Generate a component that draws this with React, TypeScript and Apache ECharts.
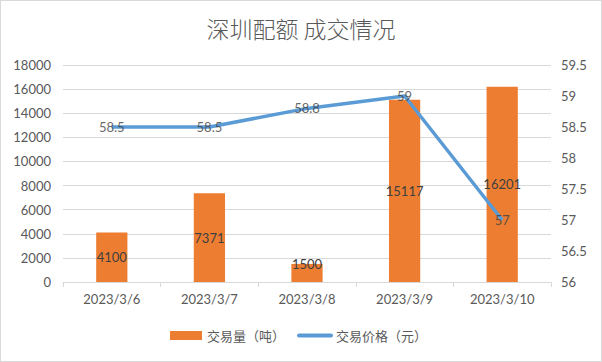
import React, { useEffect, useRef } from "react";
import * as echarts from "echarts";

const categories = ["2023/3/6", "2023/3/7", "2023/3/8", "2023/3/9", "2023/3/10"];
const volumes = [4100, 7371, 1500, 15117, 16201];
const prices = [58.5, 58.5, 58.8, 59, 57];
const titleText = "深圳配额 成交情况";
const volumeName = "交易量（吨）";
const priceName = "交易价格（元）";

export default function App() {
  const ref = useRef<HTMLDivElement>(null);
  useEffect(() => {
    if (!ref.current) return;
    const chart = echarts.init(ref.current, undefined, { renderer: "svg" });
    const numFont = "Lato, 'Noto Sans', sans-serif";
    const cjkFont = "'Noto Sans CJK SC', sans-serif";
    chart.setOption({
      animation: false,
      backgroundColor: "#ffffff",
      title: {
        text: titleText,
        left: "center",
        top: 10,
        textStyle: { fontFamily: cjkFont, fontSize: 23, fontWeight: 300, color: "#595959" },
      },
      legend: {
        bottom: 14,
        left: 164,
        itemWidth: 32,
        itemHeight: 9,
        itemGap: 12,
        textStyle: { fontFamily: cjkFont, fontSize: 13, color: "#595959" },
        data: [
          { name: volumeName, icon: "rect" },
          {
            name: priceName,
            itemStyle: { opacity: 0 },
            lineStyle: { width: 4, cap: "round", color: "#5B9BD5" },
          },
        ],
      },
      grid: { left: 62, right: 50, top: 64, bottom: 79, containLabel: false },
      xAxis: {
        type: "category",
        data: categories,
        boundaryGap: true,
        axisLine: { lineStyle: { color: "#d9d9d9" } },
        axisTick: { show: true, alignWithLabel: false, length: 5, lineStyle: { color: "#d9d9d9" } },
        axisLabel: { fontFamily: numFont, fontSize: 13, color: "#595959", margin: 10 },
      },
      yAxis: [
        {
          type: "value",
          min: 0,
          max: 18000,
          interval: 2000,
          axisLine: { show: false },
          axisTick: { show: false },
          axisLabel: {
            fontFamily: numFont,
            fontSize: 13,
            color: "#595959",
            margin: 12,
            formatter: (v: number) => String(v),
          },
          splitLine: { lineStyle: { color: "#d9d9d9" } },
        },
        {
          type: "value",
          min: 56,
          max: 59.5,
          interval: 0.5,
          alignTicks: false,
          axisLine: { show: false },
          axisTick: { show: false },
          axisLabel: { fontFamily: numFont, fontSize: 13, color: "#595959", margin: 10 },
          splitLine: { show: false },
        },
      ],
      series: [
        {
          name: volumeName,
          type: "bar",
          data: volumes.map((v, i) =>
            i === 2 ? { value: v, label: { offset: [0, -9] } } : v
          ),
          barWidth: "32%",
          itemStyle: { color: "#ED7D31" },
          label: {
            show: true,
            position: "inside",
            fontFamily: numFont,
            fontSize: 13,
            color: "#404040",
          },
          z: 2,
        },
        {
          name: priceName,
          type: "line",
          yAxisIndex: 1,
          data: prices,
          showSymbol: false,
          symbol: "none",
          lineStyle: { color: "#5B9BD5", width: 3.5 },
          itemStyle: { color: "#5B9BD5" },
          z: 3,
        },
        {
          name: "priceLabels",
          type: "scatter",
          yAxisIndex: 1,
          data: prices,
          symbolSize: 0,
          itemStyle: { color: "transparent" },
          label: {
            show: true,
            position: "inside",
            fontFamily: numFont,
            fontSize: 13,
            color: "#404040",
          },
          silent: true,
          z: 4,
        },
      ],
    });
    return () => chart.dispose();
  }, []);
  return (
    <div
      ref={ref}
      style={{
        position: "fixed",
        left: 0,
        top: 0,
        width: 602,
        height: 362,
        boxSizing: "border-box",
        border: "1px solid #d9d9d9",
      }}
    />
  );
}
